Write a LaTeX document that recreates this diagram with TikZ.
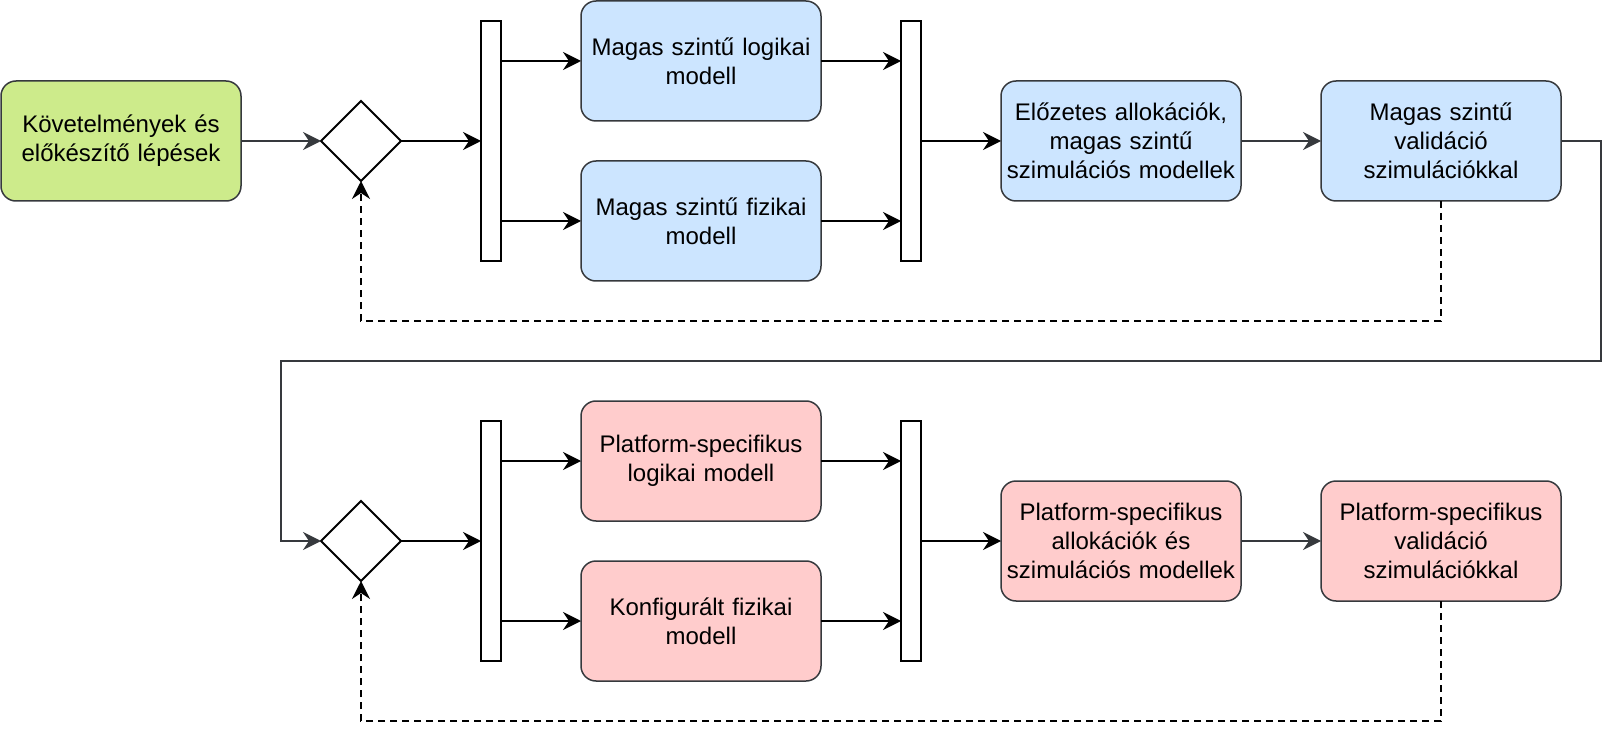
\documentclass[tikz,border=0pt]{standalone}
\usepackage{fontspec}
\setmainfont{Liberation Sans}
\usepackage{xcolor}
\usetikzlibrary{arrows.meta}
\usetikzlibrary{shapes.geometric,
                positioning,
                calc}
\definecolor{reqgreen}{HTML}{CDEB8B}
\definecolor{hlblue}{HTML}{CCE5FF}
\definecolor{psred}{HTML}{FFCCCC}
\definecolor{edgegray}{HTML}{36393D}

\begin{document}
\begin{tikzpicture}[
        x=1pt, y=-1pt,
        node distance=80pt and 80pt,
        stepbox/.style={draw=edgegray, line width=1.5pt, rounded corners=15pt, minimum height=120pt, text width=230pt, inner sep=5pt, outer sep=0pt, align=center, font=\fontsize{24}{28.8}\selectfont},
        decision/.style={draw, line width=2pt, diamond, inner sep=0pt, outer sep=0pt, minimum width=80pt, minimum height=80pt},
        bar/.style={draw, line width=2pt, fill=white, minimum width=20pt, minimum height=240pt, inner sep=0pt, outer sep=0pt},
        every path/.style={-{Stealth[length=18pt, width=18pt, inset=6pt]}, line width=2pt},
        grayarrow/.style={draw=edgegray},
        feedback/.style={dash pattern=on 7pt off 5pt}
        ]
        \useasboundingbox (0,0) rectangle (1618,738);

        % Nodes - upper row
        \node[stepbox, fill=reqgreen] (req) at (121,141) {Követelmények és \\ előkészítő lépések};
        \node[decision, right=of req] (decA) {};
        \node[bar, right=of decA] (barA) {};
        \node[stepbox, fill=hlblue, right=of barA, yshift=80pt] (hllog) {Magas szintű logikai \\ modell};
        \node[stepbox, fill=hlblue, right=of barA, yshift=-80pt] (hlphys) {Magas szintű fizikai \\ modell};
        \node[bar, right=of hllog, yshift=-80pt] (barB) {};
        \node[stepbox, fill=hlblue, right=of barB] (hlalloc) {Előzetes allokációk, \\ magas szintű \\ szimulációs modellek};
        \node[stepbox, fill=hlblue, right=of hlalloc] (hlval) {Magas szintű \\ validáció \\ szimulációkkal};

        % Nodes - lower row
        \node[decision] (decB) at (361,541) {};
        \node[bar, right=of decB] (barC) {};
        \node[stepbox, fill=psred, right=of barC, yshift=80pt] (pslog) {Platform-specifikus \\ logikai modell};
        \node[stepbox, fill=psred, right=of barC, yshift=-80pt] (psphys) {Konfigurált fizikai \\ modell};
        \node[bar, right=of pslog, yshift=-80pt] (barD) {};
        \node[stepbox, fill=psred, right=of barD] (psalloc) {Platform-specifikus \\ allokációk és \\ szimulációs modellek};
        \node[stepbox, fill=psred, right=of psalloc] (psval) {Platform-specifikus \\ validáció \\ szimulációkkal};

        \coordinate (loopR) at (1601,361);
        \coordinate (loopL) at (281,361);

        % Arrows - upper row
        \draw[grayarrow] (req) -- (decA);
        \draw (decA) -- (barA);
        \draw (barA.east |- hllog) -- (hllog);
        \draw (barA.east |- hlphys) -- (hlphys);
        \draw (hllog) -- (barB.west |- hllog);
        \draw (hlphys) -- (barB.west |- hlphys);
        \draw (barB) -- (hlalloc);
        \draw[grayarrow] (hlalloc) -- (hlval);
        \draw[feedback] (hlval.south) -- ++(0,120) -| (decA.south);

        % Arrows - between rows
        \draw[grayarrow, line width=1.5pt] (hlval.east) -| (loopR) -- (loopL) |- (decB.west);

        % Arrows - lower row
        \draw (decB) -- (barC);
        \draw (barC.east |- pslog) -- (pslog);
        \draw (barC.east |- psphys) -- (psphys);
        \draw (pslog) -- (barD.west |- pslog);
        \draw (psphys) -- (barD.west |- psphys);
        \draw (barD) -- (psalloc);
        \draw[grayarrow] (psalloc) -- (psval);
        \draw[feedback] (psval.south) -- ++(0,120) -| (decB.south);

\end{tikzpicture}
\end{document}
